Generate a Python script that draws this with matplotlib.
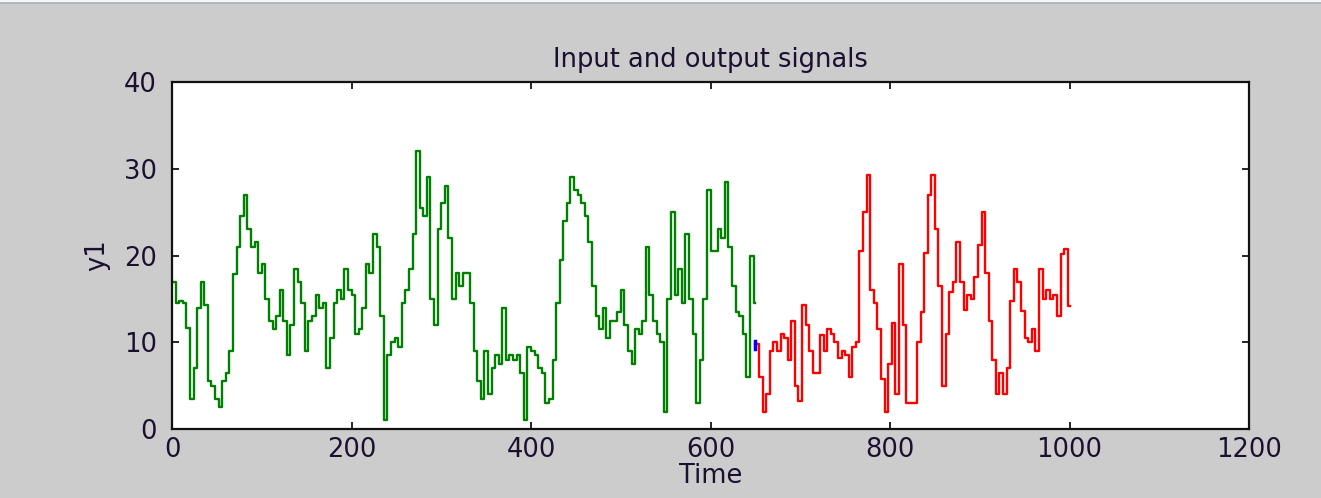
import numpy as np
import matplotlib
matplotlib.use("Agg")
import matplotlib.pyplot as plt
from matplotlib.lines import Line2D

# ---- data ----
sample_step = 4
input_start = 0
input_values = [17, 14.5, 14.7, 14.5, 11.6, 3.5, 7, 14, 17, 14.3, 5.5, 5, 3.5, 2.5, 5.5, 6.5,
                9, 17.9, 21, 24.5, 27, 23, 21, 21.5, 18, 19, 15, 12.5, 11.5, 13, 16, 12.5,
                8.5, 12, 18.5, 17, 14.5, 9, 12.5, 13, 15.5, 14, 14.5, 7, 10.5, 14.5, 16, 15,
                18.5, 16, 15.5, 11, 11.5, 14, 19, 18, 22.5, 21, 13, 1, 8.5, 10, 10.5, 9.5,
                14.5, 16, 18.5, 22.5, 32, 25.5, 24.5, 29, 15, 12, 23, 26, 28, 22, 15, 18,
                16.5, 18, 18, 14.5, 9, 5.5, 3.5, 9, 4, 7, 8.5, 7.5, 14, 8, 8.5, 8,
                8.5, 6.5, 1, 9.5, 9, 8.5, 7, 6.5, 3, 3.5, 8, 14.5, 19.5, 24, 26, 29,
                27.5, 27, 26, 24.5, 21.5, 16.5, 13, 11.5, 14, 10.5, 12.5, 12.5, 13.5, 16, 12, 9,
                7.5, 11.5, 11, 12.5, 21, 15.5, 12.5, 11, 10, 2, 15, 25, 15.5, 18.5, 14.5, 22.5,
                15, 11, 3, 8, 15, 27.5, 20.5, 20.5, 23, 22, 28.5, 21, 16.5, 13.5, 13, 11,
                6, 20, 14.5]
output_start = 650
output_values = [9.8, 6, 2, 4, 9, 10, 9, 11, 10.5, 8, 12.4, 5, 3.2, 14.3, 12, 9,
                 6.5, 6.5, 10.8, 9, 11.5, 11, 10, 8.2, 9, 8.5, 6, 9.5, 10, 20.5, 25, 29.3,
                 16, 14.5, 11.5, 5.8, 2, 7.5, 12.2, 4, 19, 12, 3, 3, 3, 10, 13.5,
                 20.3, 27, 29.3, 23, 16.5, 5, 11, 15.8, 17, 21.5, 17, 13.7, 15.5, 15, 17.5,
                 21.2, 25, 18, 12.5, 8, 4, 6.5, 4, 7, 14.7, 18.5, 17, 13.6, 10.5, 10, 11.5,
                 9, 18.5, 15, 16, 15, 15.5, 13, 20.2, 20.8, 14.2]
join_time = [650, 650]
join_values = [9.2, 10.2]

x_ticks = [0, 200, 400, 600, 800, 1000, 1200]
y_ticks = [0, 10, 20, 30, 40]

# ---- figure ----
W, H = 1321, 498
fig = plt.figure(figsize=(W / 100, H / 100), dpi=100, facecolor="#cccccc")
plt.rcParams["font.family"] = ["DejaVu Sans"]

# window chrome at the very top
fig.patches.append(plt.Rectangle((0, 1 - 3 / H), 1, 3 / H, transform=fig.transFigure,
                                 facecolor="#f4f4f6", edgecolor="none"))
fig.lines.append(Line2D([0, 1], [1 - 3.5 / H, 1 - 3.5 / H], transform=fig.transFigure,
                        color="#a9afc0", lw=1.2))

ax = fig.add_axes([172 / W, 1 - 429 / H, (1249 - 172) / W, (429 - 82) / H])
ax.set_facecolor("white")

t_in = input_start + sample_step * np.arange(len(input_values))
t_out = output_start + sample_step * np.arange(len(output_values))

ax.plot(np.append(t_in, output_start), np.append(input_values, input_values[-1]),
        drawstyle="steps-post", color="#008000", lw=1.7)
ax.plot(np.append(t_out, 1000), np.append(output_values, output_values[-1]),
        drawstyle="steps-post", color="#ff0000", lw=1.7)
ax.plot(join_time, join_values, color="#0000ff", lw=2.5)

ax.set_xlim(0, 1200)
ax.set_ylim(0, 40)
ax.set_xticks(x_ticks)
ax.set_yticks(y_ticks)
ax.tick_params(direction="in", length=5, width=1.2, top=True, right=True,
               labelsize=18.5, colors="black", pad=6)
ax.tick_params(axis="y", pad=11)
for lab in ax.get_xticklabels() + ax.get_yticklabels():
    lab.set_color("#1a1030")
for s in ax.spines.values():
    s.set_linewidth(1.6)
    s.set_color("#111111")

ax.set_title("Input and output signals", fontsize=18.5, color="#1a1030", pad=11)
ax.set_xlabel("Time", fontsize=18.5, color="#1a1030", labelpad=0)
ax.set_ylabel("y1", fontsize=18.5, color="#1a1030", labelpad=10)

fig.savefig("out.png", dpi=100, facecolor=fig.get_facecolor())
